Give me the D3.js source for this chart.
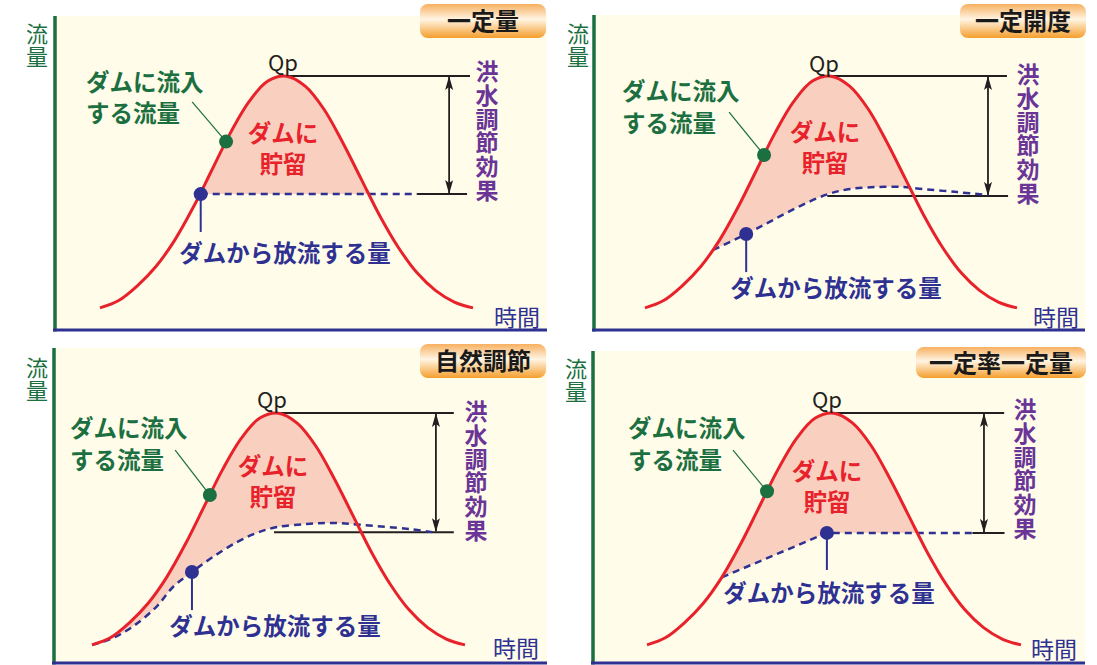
<!DOCTYPE html>
<html>
<head>
<meta charset="utf-8">
<script src="https://cdn.jsdelivr.net/npm/d3@7"></script>
<style>
  body { margin: 0; background: #fff; }
  svg { display: block; }
  text { font-family: "Noto Sans CJK JP", "Noto Sans", sans-serif; }
  .vert { writing-mode: vertical-rl; text-orientation: upright; }
</style>
</head>
<body>
<svg id="chart" width="1097" height="665"></svg>
<script>
// inflow hydrograph (same for every panel), time 0-100, flow 0-100 (Qp = 100)
const times = [0, 5, 10, 15, 20, 25, 30, 35, 40, 45, 50, 55, 60, 65, 70, 75, 80, 85, 90, 95, 100];
const inflow = [8.7, 11.6, 17.4, 25.0, 35.3, 48.3, 63.0, 77.7, 90.0, 98.0, 99.9, 96.0, 87.0, 74.0, 59.5, 45.0, 32.5, 22.5, 15.5, 11.0, 8.7];

// outflow per operating rule
const titles = ['一定量', '一定開度', '自然調節', '一定率一定量'];
const outTimes = [
  [27, 85],
  [18.3, 27.2, 34.4, 41.7, 49.2, 55.1, 62.4, 69.4, 74.7, 83.9, 92.2],
  [0, 5.6, 11, 17.4, 21.7, 26.8, 32.4, 38.9, 44.2, 49.6, 57.6, 64.6, 72.7, 85.3, 91.2],
  [20, 48.1, 87.7]
];
const outValues = [
  [53.5, 53.5],
  [31.5, 37.8, 43.3, 48.8, 53.5, 55.5, 56.3, 56.3, 55.5, 54.3, 53.1],
  [8.7, 11.4, 16.0, 23.9, 31.5, 37.4, 43.3, 49.2, 52.8, 55.1, 56.3, 56.7, 55.9, 54.3, 53.1],
  [35.3, 52.8, 52.8]
];
// annotation anchors (time, flow)
const inDotTime = [33.8, 32, 31.6, 32.1];
const leaderEnd = [[24.7, 89.8], [22.6, 85.8], [22.3, 85.4], [23, 85.4]];
const outDotTime = [27, 27.2, 26.8, 48.1];
const outStemEnd = [38.6, 22.8, 22.4, 38.2];
const qpLine = [[49, 99.2], [48, 97.3], [49, 97], [48.5, 95.5]];
const lowLine = [[85, 98.4, 53.5], [49, 97.6, 52.8], [48.8, 97, 53.1], [87, 95.6, 52.8]];
const arrowTime = [93.6, 92.2, 92.2, 90.1];

const yLabel = '流量', xLabel = '時間', peakLabel = 'Qp';
const inflowText = ['ダムに流入', 'する流量'];
const storeText = ['ダムに', '貯留'];
const outflowText = 'ダムから放流する量';
const effectText = '洪水調節効果';

// pixel layout of each panel
const layout = [
  { left: 55, right: 547, top: 16, bottom: 330, badge: [420, 4, 126, 34], x0: 100, x1: 473, y0: 330,
    flowX: 37, flowY: 23, timeX: 540, timeY: 326, inX: 86, inY: [91, 122], stX: 283, stY: [142, 173], outX: 285, outY: 262, effX: 487, effY: 60, qpX: 283, qpY: 71 },
  { left: 594, right: 1085, top: 15, bottom: 330, badge: [960, 4, 126, 34], x0: 645, x1: 1017, y0: 330,
    flowX: 578, flowY: 23, timeX: 1079, timeY: 326, inX: 622, inY: [100, 132], stX: 825, stY: [141, 172], outX: 836, outY: 297, effX: 1028, effY: 63, qpX: 824, qpY: 72 },
  { left: 54, right: 547, top: 348, bottom: 663, badge: [420, 344, 126, 34], x0: 92, x1: 465, y0: 667,
    flowX: 37, flowY: 357, timeX: 539, timeY: 657, inX: 70, inY: [437, 469], stX: 273, stY: [475, 506], outX: 275, outY: 635, effX: 476, effY: 400, qpX: 272, qpY: 408 },
  { left: 593, right: 1085, top: 351, bottom: 663, badge: [916, 347, 170, 31], x0: 647, x1: 1021, y0: 667,
    flowX: 576, flowY: 358, timeX: 1077, timeY: 658, inX: 628, inY: [437, 469], stX: 827, stY: [480, 511], outX: 829, outY: 602, effX: 1025, effY: 398, qpX: 827, qpY: 408 }
];

const C = {
  cream: '#fffce9', green: '#1b6f40', navy: '#2e3192', red: '#e8222b', pink: '#f9d0bf',
  purple: '#6a3596', black: '#231f20'
};

const svg = d3.select('#chart');
const defs = svg.append('defs');

const grad = defs.append('linearGradient').attr('id', 'badgeGrad')
  .attr('x1', 0).attr('y1', 0).attr('x2', 0).attr('y2', 1);
grad.append('stop').attr('offset', '0%').attr('stop-color', '#f7b060');
grad.append('stop').attr('offset', '45%').attr('stop-color', '#fff5e4');
grad.append('stop').attr('offset', '100%').attr('stop-color', '#f59e2c');

defs.append('marker').attr('id', 'arrowHead')
  .attr('markerUnits', 'userSpaceOnUse')
  .attr('viewBox', '0 0 14 8').attr('refX', 13).attr('refY', 4)
  .attr('markerWidth', 14).attr('markerHeight', 8)
  .attr('orient', 'auto-start-reverse')
  .append('path').attr('d', 'M0,0 L14,4 L0,8 L3,4 Z').attr('fill', C.black);

const inflowPts = times.map((t, i) => [t, inflow[i]]);
const inflowAt = d3.scaleLinear().domain(times).range(inflow);

layout.forEach((L, p) => {
  const g = svg.append('g');
  const x = d3.scaleLinear().domain([0, 100]).range([L.x0, L.x1]);
  const y = d3.scaleLinear().domain([0, 100]).range([L.y0, L.y0 - 254]);
  const outPts = outTimes[p].map((t, i) => [t, outValues[p][i]]);
  const outAt = d3.scaleLinear().domain(outTimes[p]).range(outValues[p]);
  const outCurve = (p === 1 || p === 2) ? d3.curveCatmullRom : d3.curveLinear;

  // background
  g.append('rect').attr('x', L.left).attr('y', L.top)
    .attr('width', L.right - L.left).attr('height', L.bottom - L.top).attr('fill', C.cream);

  // storage area: under inflow, above outflow
  const clipId = 'clip' + p;
  defs.append('clipPath').attr('id', clipId).append('path')
    .attr('d', d3.area().curve(outCurve)
      .x(d => x(d[0])).y0(d => y(d[1])).y1(y(120))(outPts));
  g.append('path')
    .attr('d', d3.area().curve(d3.curveCatmullRom)
      .x(d => x(d[0])).y0(y(0)).y1(d => y(d[1]))(inflowPts))
    .attr('fill', C.pink).attr('clip-path', `url(#${clipId})`);

  // axes
  g.append('line').attr('x1', L.left).attr('x2', L.left).attr('y1', L.top).attr('y2', L.bottom + 1.5)
    .attr('stroke', C.green).attr('stroke-width', 3.5);
  g.append('line').attr('x1', L.left - 2).attr('x2', L.right).attr('y1', L.bottom).attr('y2', L.bottom)
    .attr('stroke', C.navy).attr('stroke-width', 3);

  // reference lines
  g.append('line').attr('x1', x(qpLine[p][0])).attr('x2', x(qpLine[p][1]))
    .attr('y1', y(100)).attr('y2', y(100)).attr('stroke', C.black).attr('stroke-width', 2);
  g.append('line').attr('x1', x(lowLine[p][0])).attr('x2', x(lowLine[p][1]))
    .attr('y1', y(lowLine[p][2])).attr('y2', y(lowLine[p][2])).attr('stroke', C.black).attr('stroke-width', 2);
  g.append('line').attr('x1', x(arrowTime[p])).attr('x2', x(arrowTime[p]))
    .attr('y1', y(100) + 1).attr('y2', y(lowLine[p][2]) - 1)
    .attr('stroke', C.black).attr('stroke-width', 1.8)
    .attr('marker-start', 'url(#arrowHead)').attr('marker-end', 'url(#arrowHead)');

  // outflow (dashed)
  g.append('path')
    .attr('d', d3.line().curve(outCurve).x(d => x(d[0])).y(d => y(d[1]))(outPts))
    .attr('fill', 'none').attr('stroke', C.navy).attr('stroke-width', 2.5)
    .attr('stroke-dasharray', '7,5');

  // inflow
  g.append('path')
    .attr('d', d3.line().curve(d3.curveCatmullRom).x(d => x(d[0])).y(d => y(d[1]))(inflowPts))
    .attr('fill', 'none').attr('stroke', C.red).attr('stroke-width', 3);

  // inflow marker and leader
  const it = inDotTime[p];
  g.append('line').attr('x1', x(it)).attr('y1', y(inflowAt(it)))
    .attr('x2', x(leaderEnd[p][0])).attr('y2', y(leaderEnd[p][1]))
    .attr('stroke', C.green).attr('stroke-width', 1.2);
  g.append('circle').attr('cx', x(it)).attr('cy', y(inflowAt(it))).attr('r', 7).attr('fill', C.green);

  // outflow marker and stem
  const ot = outDotTime[p];
  g.append('line').attr('x1', x(ot)).attr('x2', x(ot))
    .attr('y1', y(outAt(ot))).attr('y2', y(outStemEnd[p]))
    .attr('stroke', C.navy).attr('stroke-width', 2);
  g.append('circle').attr('cx', x(ot)).attr('cy', y(outAt(ot))).attr('r', 7).attr('fill', C.navy);

  // badge
  const [bx, by, bw, bh] = L.badge;
  g.append('rect').attr('x', bx).attr('y', by).attr('width', bw).attr('height', bh)
    .attr('rx', 8).attr('fill', 'url(#badgeGrad)');
  g.append('text').attr('x', bx + bw / 2).attr('y', by + bh / 2 + 9)
    .attr('text-anchor', 'middle').attr('font-size', 24).attr('font-weight', 700)
    .attr('fill', '#1a1a1a').text(titles[p]);

  // axis labels
  g.append('text').attr('class', 'vert').attr('x', L.flowX).attr('y', L.flowY)
    .attr('font-size', 22).attr('letter-spacing', 1).attr('fill', C.green).text(yLabel);
  g.append('text').attr('x', L.timeX).attr('y', L.timeY).attr('text-anchor', 'end')
    .attr('font-size', 23).attr('fill', C.navy).text(xLabel);

  // Qp
  g.append('text').attr('x', L.qpX).attr('y', L.qpY).attr('text-anchor', 'middle')
    .attr('font-family', '"Noto Sans", sans-serif').attr('font-size', 22).attr('fill', C.black).text(peakLabel);

  // text annotations
  inflowText.forEach((s, i) => {
    g.append('text').attr('x', L.inX).attr('y', L.inY[i]).attr('font-size', 23.5)
      .attr('font-weight', 700).attr('fill', C.green).text(s);
  });
  storeText.forEach((s, i) => {
    g.append('text').attr('x', L.stX).attr('y', L.stY[i]).attr('text-anchor', 'middle')
      .attr('font-size', 23.5).attr('font-weight', 700).attr('fill', C.red).text(s);
  });
  g.append('text').attr('x', L.outX).attr('y', L.outY).attr('text-anchor', 'middle')
    .attr('font-size', 23.5).attr('font-weight', 700).attr('fill', C.navy).text(outflowText);
  g.append('text').attr('class', 'vert').attr('x', L.effX).attr('y', L.effY)
    .attr('font-size', 23).attr('letter-spacing', 0.7).attr('font-weight', 700)
    .attr('fill', C.purple).text(effectText);
});
</script>
</body>
</html>
